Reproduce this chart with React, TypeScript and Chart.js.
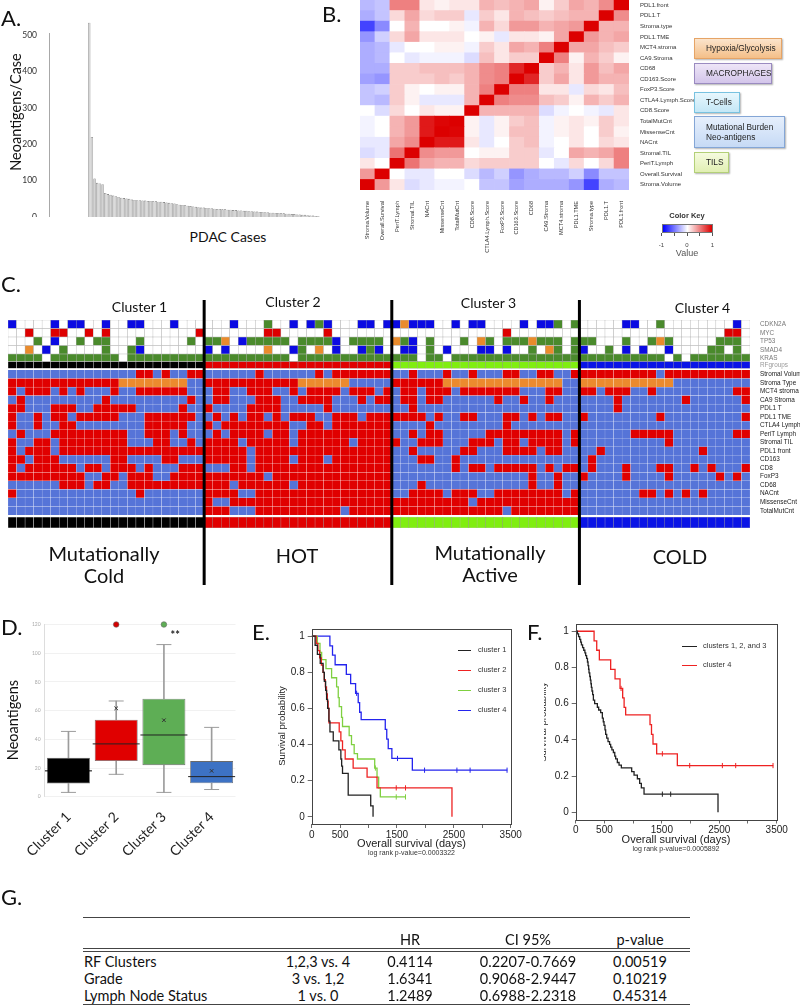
import React, { useEffect, useRef } from 'react';
import { Chart, registerables } from 'chart.js';

Chart.register(...registerables);

const SANS = 'Lato, "Open Sans", "DejaVu Sans", sans-serif';
const ARIAL = '"Liberation Sans", Arial, sans-serif';

// ---------------- Panel A data ----------------
const A_VALUES = [
  534, 220, 106, 94, 92, 90, 66, 63, 61, 59,
  57, 55, 53, 52, 51, 50, 48, 47, 46, 46,
  45, 45, 44, 44, 43, 43, 42, 42, 41, 40,
  39, 38, 37, 35, 34, 33, 32, 31, 30, 29,
  28, 27, 26, 26, 25, 24, 24, 23, 22, 22,
  21, 21, 20, 20, 19, 19, 18, 18, 17, 17,
  16, 16, 15, 15, 14, 14, 13, 13, 12, 12,
  11, 11, 10, 10, 9, 9, 8, 8, 7, 7,
  6, 6, 5, 4, 4, 3, 2,
];
const A_Y_TICKS = [0, 100, 200, 300, 400, 500];

// ---------------- Panel B data ----------------
const B_VARS = [
  'Stroma.Volume', 'Overall.Survival', 'PeriT.Lymph', 'Stromal.TIL', 'NACnt', 'MissenseCnt',
  'TotalMutCnt', 'CD8.Score', 'CTLA4.Lymph.Score', 'FoxP3.Score', 'CD163.Score', 'CD68',
  'CA9.Stroma', 'MCT4.stroma', 'PDL1.TME', 'Stroma.type', 'PDL1.T', 'PDL1.front',
];
const B_CORR_LOWER: number[][] = [
  [],
  [0.4],
  [0.1, 0.0],
  [-0.15, -0.1, 0.55],
  [-0.1, -0.1, 0.35, 0.45],
  [-0.05, 0.0, 0.3, 0.4, 0.9],
  [-0.05, 0.0, 0.3, 0.4, 0.9, 0.98],
  [0.0, -0.15, 0.15, 0.0, 0.1, 0.05, 0.05],
  [-0.25, -0.3, 0.2, 0.05, -0.1, -0.1, -0.1, 0.3],
  [-0.25, -0.2, 0.2, 0.05, 0.0, 0.05, 0.05, 0.3, 0.5],
  [-0.4, -0.45, 0.2, 0.2, 0.2, 0.25, 0.2, 0.3, 0.45, 0.5],
  [-0.35, -0.35, 0.2, 0.2, 0.25, 0.25, 0.25, 0.3, 0.45, 0.5, 0.85],
  [-0.35, -0.3, 0.0, -0.1, -0.05, -0.05, -0.05, -0.15, 0.25, 0.1, 0.2, 0.2],
  [-0.35, -0.3, -0.1, 0.0, 0.0, 0.05, 0.05, -0.05, 0.2, 0.1, 0.35, 0.3, 0.5],
  [-0.45, -0.2, 0.15, 0.35, 0.1, 0.1, 0.1, 0.0, 0.05, -0.1, 0.1, 0.1, 0.05, 0.35],
  [-0.8, -0.5, 0.0, 0.3, 0.0, 0.0, 0.05, -0.05, 0.3, 0.15, 0.4, 0.4, 0.3, 0.35, 0.4],
  [-0.35, -0.25, 0.15, 0.35, 0.15, 0.2, 0.2, -0.1, 0.2, 0.1, 0.3, 0.25, 0.2, 0.25, 0.3, 0.3],
  [-0.3, -0.25, 0.5, 0.5, 0.1, 0.05, 0.1, 0.1, 0.3, 0.25, 0.3, 0.35, 0.05, 0.2, 0.35, 0.3, 0.45],
];

// ---------------- Panel C data ----------------
const C_CLUSTER_SIZES = [23, 22, 22, 20];
const C_CLUSTER_COLORS = ['#000000', '#e00000', '#80ee10', '#0a14e6'];
const C_MUT_GENES = ['CDKN2A', 'MYC', 'TP53', 'SMAD4', 'KRAS'];
const C_MUT_ROWS: string[][] = [
  ['BWWWWBWBBWWBWWBBWWWBWWW', 'WWWBWWWGWWBWBGBWWWBBWB', 'BOBBBWWBWBBWWWWBWBBGWG', 'WWWWWBBWWGWWWWWWWWBW'],
  ['WWRWWRRWWRWRWWWWWWWWWWR', 'WWWWWWWRRWWWWWRWWWWWWW', 'WWWWWWWWWWWWWRWWWWWWWW', 'WWWWWWWWWWWWWWWWWRRW'],
  ['WWWGWBWWGWGGWWWGWWWWWGW', 'GGOWBGGGGGWGGGGBWGGGGW', 'OGBWGWWWGWOGWGGGOGGGWG', 'GGWWWGWWGOGWWWWWGGGW'],
  ['WWOWBWGWWWWGWWGBWWWWWWW', 'BWBWWWWOWWBGWOWBWWBGBW', 'WBBWGWBWWWBBWBWWGWOGWG', 'BWWGWBWBWWBWWWWGGWGW'],
  ['GGGGWGGGGGGGGWGGGGGGGGG', 'GGGGGGGGGGWGGGGGGGGGGG', 'GGGWGGWGGGGGGGGGGGGGGG', 'GGGGGGGGGGWGWGGGGGGG'],
];
const C_FEATURES = [
  'Stromal Volume', 'Stroma Type', 'MCT4 stroma', 'CA9 Stroma', 'PDL1 T', 'PDL1 TME',
  'CTLA4 Lymph', 'PeriT Lymph', 'Stromal TIL', 'PDL1 front', 'CD163', 'CD8', 'FoxP3',
  'CD68', 'NACnt', 'MissenseCnt', 'TotalMutCnt',
];
const C_FEATURE_ROWS: string[][] = [
  ['BBBBBBBBBBBBBBBRRBRBBRR', 'BBBBBBRBBBBBBRBRRRRRRR', 'BBRBBBRBBRBBBRRBBRRBBR', 'RRRRRRRRRBRRRRRRRRRR'],
  ['RRRRRRRRRRRRROOOOOOOOBB', 'RRRRRRRRRRROOOOOOBBBBB', 'RRRRRROOOOOOOOOOOOOOBB', 'OOOOOOOOOOOBBBBBBBBB'],
  ['RBRRRBRBRBBBRBBRRRRRRBB', 'BRRBBRRRBBRBRRRRBRRRBR', 'BRRBRRRBRRRRRRRBBBRRBB', 'RRBRRRBBRBBBBBBBBBRR'],
  ['BRBBBBBBBBBRBBBBBBBBBRB', 'BRRBBBRRRBBRRRRBBBRBRR', 'BRRBRRBBBBBBRBBRBBRBBB', 'BBBBRBBBBBBBRBBBBBBR'],
  ['RRBBBRRRBBRRRRRBBBBBRBB', 'RBBBBRRRRBBBBBRBBBBBBB', 'BBRBBBBBBBBBBBBBBBBBBB', 'BBBBRBBBBBBBBBBBBBBB'],
  ['RBBRBRRBRRRRRBBBRRRRRRB', 'BRBRBRRBRBRRRBBRRRBRRR', 'RRRRBRBBRRBBBRRBRBRRBB', 'RBBBBBBBBRBBBBBBBBBR'],
  ['RBBRBBRRBBBBBBBBRRRRRBB', 'RBRRRRRRRRBBRRBRRRRRRR', 'BBBBRBBBBBBBBRBBBBBBBB', 'BBBBBBBBBBBBBBBBBBBB'],
  ['BRBBBRRRRRRRRRBBRRRBRBB', 'BRBRRRRBRRBRRRRRRRRRRR', 'BBRBRRBBBBBRRRRRRRRRBR', 'BBBBBBRRRRRBBBBBBBRR'],
  ['RBBRRBRRRRRRRRBBBRRBBRB', 'RRRRBRRRRRBRRRRRRBRRRR', 'RBBRRRBBBRRRBRRBRRRRBR', 'BBBBBBBBBBRBBBBBBBBB'],
  ['RBRRRBRRRRRRRRRRRRRRRRR', 'RRRRRBRRRRRRRRRRRRRRRR', 'BBRBBBBBRRBBBRRRRBRRBB', 'BBRBBBBBBBBBBBRBBBBB'],
  ['RRBRRRBBBBBBRRBBBBRRBBB', 'RRRRRBRRRRBRRRBRRRRRRR', 'BBBRRBBRBBBBBBBBBBBBBB', 'BRBBBBBBBBBBBBBBBBBB'],
  ['RBRRRRRRBRRBRRRBRBBBRRR', 'BBBRRBRRRRRRRRRRRRRRRR', 'BBBBBBBRBRRBRRRRRBRBRR', 'BRBBBRBBBRRBBRBRBBBR'],
  ['RRRRRRRRRBBRRBRRRBBRRRR', 'RRRRRRRBRRRRRRRRRRRRRR', 'BBBBBBBBBBBBBBBBRBBRBB', 'RBBBBRBBBBRBBBBBRBRB'],
  ['BBBBBBRRRBRRBBRRRRRRRRR', 'RRRBRRRRRRBRRRRRRRRRRR', 'BBBRBBBBBBBBBBBBRBBRBB', 'BBBBBBBBBBBBBBBBBBBB'],
  ['RBBBBBBBBBBBBBBRBBBBBBB', 'RRRRBBRRRRRRRRRRRRRRRR', 'BBRRRRBRRRBBRRRRRRRRBR', 'BBBBBBBRRBRBRBRBBBBB'],
  ['BBBBBBBBBBBBBBBBBBBBBBB', 'RBBRRRRRRRRRRRRRRRRRRR', 'RRRRRRRRRBRRRRRRRRRRRR', 'BBBBBBBBBBBBBBBBBBBB'],
  ['BBBBBBBBBBBBBBBBBBBBBBB', 'RRRBBBRRRRRRRRRRBRRRRR', 'RRRRRRRRRRRRRBRRRRRRRR', 'BBBBBBBBBBBBBBBBBBBB'],
];

// ---------------- Panel D data ----------------
const D_CATS = ['Cluster 1', 'Cluster 2', 'Cluster 3', 'Cluster 4'];
const D_MIN = [3, 15.6, 3, 5];
const D_Q1 = [9.2, 24.8, 22, 9.4];
const D_MED = [18, 36.8, 43, 14];
const D_Q3 = [27.1, 53.6, 68.3, 24.8];
const D_MAX = [45.5, 66.7, 106, 48.3];
const D_MEAN = [19, 61.6, 53.3, 18];
const D_OUTLIER = [null, 120, 120, null];
const D_Y_TICKS = [0, 20, 40, 60, 80, 100, 120];

// ---------------- Panel E / F data ----------------
const E_C1_T = [0, 60, 100, 150, 200, 222, 245, 262, 280, 303, 321, 379, 478, 513, 527, 542, 642, 1038, 1079];
const E_C1_S = [1, 0.95, 0.9, 0.85, 0.8, 0.75, 0.7, 0.65, 0.6, 0.53, 0.47, 0.42, 0.37, 0.32, 0.28, 0.24, 0.12, 0.06, 0];
const E_C2_T = [0, 80, 110, 140, 170, 200, 220, 240, 260, 275, 290, 303, 484, 513, 542, 589, 729, 974, 1149, 2467];
const E_C2_S = [1, 0.96, 0.92, 0.88, 0.84, 0.8, 0.76, 0.72, 0.68, 0.64, 0.6, 0.52, 0.47, 0.42, 0.37, 0.32, 0.27, 0.22, 0.16, 0];
const E_C2_CENS_T = [1487, 1650];
const E_C2_CENS_S = [0.16, 0.16];
const E_C3_T = [0, 100, 146, 175, 251, 350, 438, 467, 484, 525, 542, 659, 700, 747, 805, 1108, 1149, 1178, 1207, 1650];
const E_C3_S = [1, 0.96, 0.91, 0.87, 0.82, 0.77, 0.72, 0.66, 0.61, 0.55, 0.5, 0.45, 0.4, 0.35, 0.32, 0.27, 0.22, 0.16, 0.11, 0.11];
const E_C3_CENS_T = [1120, 1487, 1650];
const E_C3_CENS_S = [0.27, 0.11, 0.11];
const C4_T = [0, 320, 366, 412, 609, 685, 772, 818, 843, 870, 1294, 1320, 1346, 1410, 1770, 3440];
const C4_S = [1, 0.947, 0.895, 0.842, 0.789, 0.737, 0.684, 0.632, 0.579, 0.538, 0.484, 0.43, 0.377, 0.323, 0.258, 0.258];
const C4_CENS_T = [790, 1509, 1985, 2554, 2786, 3436];
const C4_CENS_S = [0.684, 0.323, 0.258, 0.258, 0.258, 0.258];
const F_C123_T = [0, 30, 50, 70, 87, 100, 120, 140, 160, 174, 190, 205, 215, 225, 232, 245, 255, 265, 273, 283, 295, 308, 330, 377, 400, 435, 464, 480, 493, 510, 522, 540, 563, 590, 609, 630, 656, 680, 696, 725, 755, 795, 975, 1016, 1074, 1114, 1143, 1190, 2478];
const F_C123_S = [1, 0.985, 0.97, 0.955, 0.94, 0.925, 0.91, 0.895, 0.88, 0.865, 0.85, 0.83, 0.81, 0.79, 0.77, 0.75, 0.73, 0.71, 0.69, 0.67, 0.65, 0.62, 0.6, 0.58, 0.565, 0.55, 0.52, 0.5, 0.48, 0.455, 0.43, 0.41, 0.39, 0.375, 0.36, 0.345, 0.33, 0.31, 0.295, 0.275, 0.26, 0.245, 0.225, 0.205, 0.185, 0.16, 0.135, 0.1, 0];
const F_C123_CENS_T = [1509, 1654];
const F_C123_CENS_S = [0.1, 0.1];
const KM_X_TICKS = [0, 500, 1000, 1500, 2000, 2500, 3000, 3500];
const KM_X_LABELED = [0, 500, 1500, 2500, 3500];
const KM_Y_TICKS = [0, 0.2, 0.4, 0.6, 0.8, 1];

// ---------------- Panel G data ----------------
const G_HEADERS = ['', '', 'HR', 'CI 95%', 'p-value'];
const G_VARIABLES = ['RF Clusters', 'Grade', 'Lymph Node Status'];
const G_COMPARISONS = ['1,2,3 vs. 4', '3 vs. 1,2', '1 vs. 0'];
const G_HR = ['0.4114', '1.6341', '1.2489'];
const G_CI = ['0.2207-0.7669', '0.9068-2.9447', '0.6988-2.2318'];
const G_P = ['0.00519', '0.10219', '0.45314'];

// ---------------- helpers ----------------
function base(padding: any) {
  return {
    responsive: false,
    maintainAspectRatio: false,
    animation: false,
    devicePixelRatio: 1,
    events: [],
    layout: { padding },
    plugins: { legend: { display: false }, tooltip: { enabled: false }, title: { display: false } },
  };
}

function corrMatrix() {
  const n = B_VARS.length;
  const m: number[][] = [];
  for (let i = 0; i < n; i++) {
    m.push([]);
    for (let j = 0; j < n; j++) {
      if (i === j) m[i].push(1);
      else if (i > j) m[i].push(B_CORR_LOWER[i][j]);
      else m[i].push(B_CORR_LOWER[j][i]);
    }
  }
  return m;
}

function corrColor(v: number) {
  if (v >= 0) {
    const r = Math.round(255 - 35 * v);
    const g = Math.round(255 * (1 - v));
    return `rgb(${r},${g},${g})`;
  }
  const t = -v;
  const c = Math.round(255 * (1 - t) + 20 * t);
  return `rgb(${c},${c},255)`;
}

// ---------------- chart builders ----------------
function buildA() {
  return {
    type: 'bar',
    data: {
      datasets: [{
        data: A_VALUES.map((v, i) => ({ x: i, y: v })),
        backgroundColor: '#d3d3d3',
        borderColor: '#6e6e6e',
        borderWidth: 0.6,
        barPercentage: 0.9,
        categoryPercentage: 1,
        clip: false,
      }],
    },
    options: {
      ...base({ top: 33.2, right: 0, bottom: 0, left: 0 }),
      scales: {
        x: { type: 'linear', display: false, min: -3.8, max: 86.6 },
        y: {
          min: 0, max: 505,
          grid: { display: false },
          border: { color: '#a8a8a8', width: 1 },
          afterBuildTicks: (a: any) => { a.ticks = A_Y_TICKS.map((v) => ({ value: v })); },
          ticks: { font: { family: SANS, size: 8.5 }, color: '#333', padding: 4 },
          afterFit: (s: any) => { s.width = 49; s.paddingTop = 0; s.paddingBottom = 0; },
        },
      },
    },
  };
}

function buildB() {
  const m = corrMatrix();
  const datasets = B_VARS.map((name, r) => ({
    label: name,
    data: B_VARS.map(() => 1),
    backgroundColor: B_VARS.map((_, c) => corrColor(m[r][c])),
    borderWidth: 0,
    barPercentage: 1,
    categoryPercentage: 1,
  }));
  return {
    type: 'bar',
    data: { labels: B_VARS, datasets },
    options: {
      ...base({ top: 0, right: 0, bottom: 0, left: 0 }),
      scales: {
        x: {
          stacked: true,
          grid: { display: false },
          border: { display: false },
          ticks: { autoSkip: false, minRotation: 90, maxRotation: 90, padding: 3, color: '#333', font: { family: ARIAL, size: 5.6 } },
          afterFit: (s: any) => { s.height = 75; s.paddingLeft = 0; s.paddingRight = 0; },
        },
        y: { stacked: true, display: false, min: 0, max: B_VARS.length },
        yl: {
          type: 'category',
          position: 'right',
          labels: [...B_VARS].reverse(),
          offset: true,
          grid: { display: false },
          border: { display: false },
          ticks: { autoSkip: false, padding: 3, color: '#333', font: { family: ARIAL, size: 6 } },
          afterFit: (s: any) => { s.width = 71; s.paddingTop = 0; s.paddingBottom = 0; },
        },
      },
    },
  };
}

const MUT_COLORS: Record<string, string> = { W: '#ffffff', B: '#0b0be2', R: '#dd0000', G: '#4a8a2c', O: '#e98b2c' };
const FEAT_COLORS: Record<string, string> = { R: '#e00000', B: '#5674d8', O: '#ec8a2e' };

function buildCRows() {
  const clusterOf: number[] = [];
  C_CLUSTER_SIZES.forEach((n, k) => { for (let i = 0; i < n; i++) clusterOf.push(k); });
  const rows: any[] = [];
  const clusterRow = (label: string, h: number) => ({
    label, h, labelColor: '#9a9a9a',
    colors: clusterOf.map((k) => C_CLUSTER_COLORS[k]),
    border: clusterOf.map((k) => (k === 0 ? 'rgba(255,255,255,0.28)' : 'rgba(0,0,0,0.28)')),
    bw: 0.5,
  });
  const gap = (h: number) => ({ label: '', h, colors: clusterOf.map(() => 'rgba(0,0,0,0)'), border: 'rgba(0,0,0,0)', bw: 0 });
  rows.push(clusterRow('', 11));
  rows.push(gap(2));
  for (let r = C_FEATURES.length - 1; r >= 0; r--) {
    const codes = C_FEATURE_ROWS[r].join('').split('');
    rows.push({ label: C_FEATURES[r], h: 8.53, labelColor: '#222', colors: codes.map((c) => FEAT_COLORS[c]), border: 'rgba(255,255,255,0.33)', bw: 0.4 });
  }
  rows.push(gap(1.5));
  rows.push(clusterRow('RFgroups', 7));
  for (let g = C_MUT_GENES.length - 1; g >= 0; g--) {
    const codes = C_MUT_ROWS[g].join('').split('');
    rows.push({ label: C_MUT_GENES[g], h: g === 4 ? 7.5 : 8.5, labelColor: '#777', colors: codes.map((c) => MUT_COLORS[c]), border: '#b3b3b3', bw: 0.5 });
  }
  let acc = 0;
  rows.forEach((r) => { r.center = acc + r.h / 2; acc += r.h; });
  return { rows, total: acc, n: clusterOf.length };
}

const clusterLinesPlugin = {
  id: 'clusterLines',
  afterDatasetsDraw(chart: any) {
    const x = chart.scales.x;
    const ctx = chart.ctx;
    let acc = 0;
    ctx.save();
    ctx.strokeStyle = '#000';
    ctx.lineWidth = 3;
    C_CLUSTER_SIZES.slice(0, -1).forEach((n) => {
      acc += n;
      const px = (x.getPixelForValue(acc - 1) + x.getPixelForValue(acc)) / 2;
      ctx.beginPath();
      ctx.moveTo(px, 10);
      ctx.lineTo(px, 295);
      ctx.stroke();
    });
    ctx.restore();
  },
};

function buildC() {
  const { rows, total, n } = buildCRows();
  const labeled = rows.filter((r: any) => r.label);
  const labels = Array.from({ length: n }, (_, i) => `case ${i + 1}`);
  const datasets = rows.map((r: any) => ({
    data: r.colors.map(() => r.h),
    backgroundColor: r.colors,
    borderColor: r.border,
    borderWidth: r.bw,
    borderSkipped: false,
    barPercentage: 1,
    categoryPercentage: 1,
  }));
  return {
    type: 'bar',
    data: { labels, datasets },
    plugins: [clusterLinesPlugin],
    options: {
      ...base({ top: 30, right: 0, bottom: 62, left: 8 }),
      scales: {
        x: { stacked: true, display: false },
        y: { stacked: true, display: false, min: 0, max: total },
        y2: {
          type: 'linear', position: 'right', min: 0, max: total,
          grid: { display: false }, border: { display: false },
          afterBuildTicks: (a: any) => { a.ticks = labeled.map((r: any) => ({ value: r.center })); },
          ticks: {
            autoSkip: false, padding: 2,
            font: { family: ARIAL, size: 6.4 },
            color: (ctx: any) => (labeled[ctx.index] ? labeled[ctx.index].labelColor : '#222'),
            callback: (_v: any, i: number) => (labeled[i] ? labeled[i].label : ''),
          },
          afterFit: (s: any) => { s.width = 50; s.paddingTop = 0; s.paddingBottom = 0; },
        },
      },
    },
  };
}

function buildD() {
  const boxColors = ['#000000', '#e00000', '#5eae55', '#3d72c4'];
  const pt = (data: any[], extra: any) => ({ type: 'line', data, showLine: false, ...extra });
  return {
    type: 'bar',
    data: {
      labels: D_CATS,
      datasets: [
        { type: 'bar', data: D_MIN.map((v, i) => [v, D_Q1[i]]), backgroundColor: '#9c9c9c', barThickness: 1, grouped: false, order: 6 },
        { type: 'bar', data: D_Q3.map((v, i) => [v, D_MAX[i]]), backgroundColor: '#9c9c9c', barThickness: 1, grouped: false, order: 6 },
        { type: 'bar', data: D_Q1.map((v, i) => [v, D_Q3[i]]), backgroundColor: boxColors, borderColor: '#6a6a6a', borderWidth: 0.8, borderSkipped: false, barPercentage: 0.9, categoryPercentage: 1, grouped: false, order: 5 },
        pt(D_MIN, { pointStyle: 'line', pointRadius: 7.5, pointBorderColor: '#9c9c9c', pointBorderWidth: 1, order: 4 }),
        pt(D_MAX, { pointStyle: 'line', pointRadius: 7.5, pointBorderColor: '#9c9c9c', pointBorderWidth: 1, order: 4 }),
        pt(D_MED, { pointStyle: 'line', pointRadius: 23.5, pointBorderColor: ['#000000', '#222222', '#222222', '#222222'], pointBorderWidth: 1, order: 3 }),
        pt(D_MEAN, { pointStyle: 'crossRot', pointRadius: 2.5, pointBorderColor: ['#000000', '#333333', '#333333', '#333333'], pointBorderWidth: 1, order: 2 }),
        pt(D_OUTLIER, { pointStyle: 'circle', pointRadius: 2.8, pointBackgroundColor: ['#000', '#d40000', '#5eae55', '#000'], pointBorderColor: '#666', pointBorderWidth: 0.6, clip: false, order: 1 }),
      ],
    },
    options: {
      ...base({ top: 22.7, right: 6.5, bottom: 0, left: 0 }),
      scales: {
        x: {
          grid: { display: false },
          border: { display: false },
          ticks: { autoSkip: false, minRotation: 45, maxRotation: 45, padding: 4, color: '#222', font: { family: SANS, size: 14 } },
          afterFit: (s: any) => { s.height = 65.3; s.paddingLeft = 0; s.paddingRight = 0; },
        },
        y: {
          min: 0, max: 120,
          grid: { color: '#eeeeee', lineWidth: 0.8, drawTicks: false },
          border: { color: '#dddddd' },
          afterBuildTicks: (a: any) => { a.ticks = D_Y_TICKS.map((v) => ({ value: v })); },
          ticks: { padding: 4, color: '#aaaaaa', font: { family: SANS, size: 5 } },
          afterFit: (s: any) => { s.width = 44.6; s.paddingTop = 0; s.paddingBottom = 0; },
        },
      },
    },
  };
}

const framePlugin = {
  id: 'frame',
  afterDraw(chart: any) {
    const { ctx, chartArea } = chart;
    ctx.save();
    ctx.strokeStyle = '#444';
    ctx.lineWidth = 1;
    ctx.strokeRect(Math.round(chartArea.left) + 0.5, Math.round(chartArea.top) + 0.5, Math.round(chartArea.right - chartArea.left), Math.round(chartArea.bottom - chartArea.top));
    ctx.restore();
  },
};

function buildKM(curves: any[], pad: any, yWidth: number, xHeight: number) {
  const datasets: any[] = [];
  curves.forEach((c) => {
    datasets.push({
      data: c.t.map((t: number, i: number) => ({ x: t, y: c.s[i] })),
      stepped: true, borderColor: c.color, borderWidth: 1.3, pointRadius: 0, fill: false,
    });
    if (c.ct.length) {
      datasets.push({
        data: c.ct.map((t: number, i: number) => ({ x: t, y: c.cs[i] })),
        showLine: false, pointStyle: 'line', pointRotation: 90, pointRadius: 2.6,
        pointBorderColor: c.color, pointBorderWidth: 1, borderColor: c.color,
      });
    }
  });
  return {
    type: 'line',
    data: { datasets },
    plugins: [framePlugin],
    options: {
      ...base(pad),
      scales: {
        x: {
          type: 'linear', min: 0, max: 3500,
          grid: { display: true, drawOnChartArea: false, drawTicks: true, tickLength: 4, color: '#444', lineWidth: 0.8 },
          border: { display: false },
          afterBuildTicks: (a: any) => { a.ticks = KM_X_TICKS.map((v) => ({ value: v })); },
          ticks: {
            autoSkip: false, maxRotation: 0, padding: 1, color: '#222', font: { family: ARIAL, size: 10 },
            callback: (v: any) => (KM_X_LABELED.includes(v) ? String(v) : ''),
          },
          afterFit: (s: any) => { s.height = xHeight; s.paddingLeft = 0; s.paddingRight = 0; },
        },
        y: {
          type: 'linear', min: -0.04, max: 1.04,
          grid: { display: true, drawOnChartArea: false, drawTicks: true, tickLength: 4, color: '#444', lineWidth: 0.8 },
          border: { display: false },
          afterBuildTicks: (a: any) => { a.ticks = KM_Y_TICKS.map((v) => ({ value: v })); },
          ticks: { padding: 3, color: '#222', font: { family: ARIAL, size: 10 }, callback: (v: any) => String(v) },
          afterFit: (s: any) => { s.width = yWidth; s.paddingTop = 0; s.paddingBottom = 0; },
        },
      },
    },
  };
}

function buildE() {
  return buildKM([
    { t: E_C1_T, s: E_C1_S, ct: [], cs: [], color: '#222222' },
    { t: E_C2_T, s: E_C2_S, ct: E_C2_CENS_T, cs: E_C2_CENS_S, color: '#ee2222' },
    { t: E_C3_T, s: E_C3_S, ct: E_C3_CENS_T, cs: E_C3_CENS_S, color: '#7fd040' },
    { t: C4_T, s: C4_S, ct: C4_CENS_T, cs: C4_CENS_S, color: '#2424ee' },
  ], { top: 14, right: 21.3, bottom: 0, left: 0 }, 49.7, 41);
}

function buildF() {
  return buildKM([
    { t: F_C123_T, s: F_C123_S, ct: F_C123_CENS_T, cs: F_C123_CENS_S, color: '#222222' },
    { t: C4_T, s: C4_S, ct: C4_CENS_T, cs: C4_CENS_S, color: '#ee2222' },
  ], { top: 14, right: 23.3, bottom: 0, left: 0 }, 45.7, 40.5);
}

// ---------------- components ----------------
function ChartCanvas({ left, top, width, height, build }: any) {
  const ref = useRef<HTMLCanvasElement | null>(null);
  useEffect(() => {
    if (!ref.current) return;
    const chart = new Chart(ref.current, build());
    return () => chart.destroy();
  }, []);
  return <canvas ref={ref} width={width} height={height} style={{ position: 'absolute', left, top, width, height }} />;
}

function Txt({ x, y, size, children, family = SANS, color = '#111', weight = 400, align = 'center', rotate = 0, lh = 1 }: any) {
  const tx = align === 'center' ? '-50%' : align === 'left' ? '0' : '-100%';
  return (
    <div style={{
      position: 'absolute', left: x, top: y,
      transform: `translate(${tx},-50%) rotate(${rotate}deg)`,
      fontSize: size, fontFamily: family, color, fontWeight: weight,
      whiteSpace: 'pre', lineHeight: lh, textAlign: 'center',
    }}>{children}</div>
  );
}

function Box({ x, y, w, h, bg, border, children }: any) {
  return (
    <div style={{
      position: 'absolute', left: x, top: y, width: w, height: h, boxSizing: 'border-box',
      background: bg, border: `1px solid ${border}`, boxShadow: '1px 1px 1.5px rgba(0,0,0,0.3)',
      display: 'flex', alignItems: 'center', paddingLeft: 11, fontFamily: ARIAL, fontSize: 8.3, color: '#222',
      lineHeight: 1.25, whiteSpace: 'pre',
    }}>{children}</div>
  );
}

function HLine({ x1, x2, y, color = '#444', w = 1 }: any) {
  return <div style={{ position: 'absolute', left: x1, top: y, width: x2 - x1, height: w, background: color }} />;
}

export default function App() {
  const eLegend = [['cluster 1', '#222222'], ['cluster 2', '#ee2222'], ['cluster 3', '#7fd040'], ['cluster 4', '#2424ee']];
  const fLegend = [['clusters 1, 2, and 3', '#222222'], ['cluster 4', '#ee2222']];
  const gCols = [318, 410, 528, 640];
  const gRowsY = [962, 979, 996];
  return (
    <div style={{ position: 'absolute', left: 0, top: 0, width: 800, height: 1008, background: '#fff', overflow: 'hidden' }}>
      {/* Panel A */}
      <ChartCanvas left={0} top={0} width={350} height={217} build={buildA} />
      <Txt x={1} y={17.5} size={22} align="left">A.</Txt>
      <Txt x={16} y={112} size={14.5} rotate={-90}>Neoantigens/Case</Txt>
      <Txt x={228} y={237} size={14}>PDAC Cases</Txt>

      {/* Panel B */}
      <ChartCanvas left={360} top={0} width={340} height={265} build={buildB} />
      <Txt x={322} y={13.5} size={22} align="left">B.</Txt>
      <Box x={694} y={38} w={88} h={21} bg="linear-gradient(#fbe4cc, #f4bf88)" border="#e6a466">Hypoxia/Glycolysis</Box>
      <Box x={694} y={63} w={78} h={21} bg="linear-gradient(#eee6f7, #d3c5ea)" border="#9a8bc0">MACROPHAGES</Box>
      <Box x={694} y={92} w={46} h={21} bg="linear-gradient(#e8f7fd, #c4e7f6)" border="#78c2e0">T-Cells</Box>
      <Box x={694} y={116} w={91} h={32} bg="linear-gradient(#e6effc, #c6daf5)" border="#84a6d6">{'Mutational Burden\nNeo-antigens'}</Box>
      <Box x={694} y={152} w={35} h={21} bg="linear-gradient(#f5fbdf, #e1efb3)" border="#b3d078">TILS</Box>
      <Txt x={687} y={216} size={7.5} weight={700} family={ARIAL} color="#333">Color Key</Txt>
      <div style={{ position: 'absolute', left: 661.5, top: 224, width: 51, height: 8.5, background: 'linear-gradient(to right, #0000ff, #ffffff, #dd0000)', border: '0.5px solid #777', boxSizing: 'border-box' }} />
      {[661.5, 674.25, 687, 699.75, 712.5].map((x, i) => (
        <div key={i} style={{ position: 'absolute', left: x - 0.4, top: 232.5, width: 0.8, height: 3, background: '#555' }} />
      ))}
      <Txt x={661.5} y={245} size={6} family={ARIAL} color="#444">-1</Txt>
      <Txt x={687} y={245} size={6} family={ARIAL} color="#444">0</Txt>
      <Txt x={712.5} y={245} size={6} family={ARIAL} color="#444">1</Txt>
      <Txt x={687} y={253} size={9} family={ARIAL} color="#555">Value</Txt>

      {/* Panel C */}
      <ChartCanvas left={0} top={290} width={800} height={300} build={buildC} />
      <Txt x={1} y={284} size={22} align="left">C.</Txt>
      <Txt x={139.5} y={306.7} size={14}>Cluster 1</Txt>
      <Txt x={293} y={301.7} size={14}>Cluster 2</Txt>
      <Txt x={488.5} y={303} size={14}>Cluster 3</Txt>
      <Txt x={702.5} y={308} size={14}>Cluster 4</Txt>
      <Txt x={104} y={564} size={20} lh={1.1}>{'Mutationally\nCold'}</Txt>
      <Txt x={297} y={555} size={20}>HOT</Txt>
      <Txt x={490} y={563} size={20} lh={1.1}>{'Mutationally\nActive'}</Txt>
      <Txt x={680} y={556} size={20}>COLD</Txt>

      {/* Panel D */}
      <ChartCanvas left={0} top={600} width={260} height={262} build={buildD} />
      <Txt x={1} y={626.5} size={22} align="left">D.</Txt>
      <Txt x={13} y={720} size={14.5} rotate={-90}>Neoantigens</Txt>
      <Txt x={175.3} y={634} size={11} weight={700} color="#222">**</Txt>

      {/* Panel E */}
      <ChartCanvas left={262} top={615} width={270} height={250} build={buildE} />
      <Txt x={252} y={631.5} size={22} align="left">E.</Txt>
      <Txt x={281.7} y={726} size={9.5} family={ARIAL} rotate={-90} color="#222">Survival probability</Txt>
      <Txt x={411.5} y={842.7} size={11} family={ARIAL} color="#222">Overall survival (days)</Txt>
      <Txt x={411.5} y={852} size={7} family={ARIAL} color="#333">log rank p-value=0.0003322</Txt>
      {eLegend.map(([label, color], i) => (
        <React.Fragment key={label}>
          <div style={{ position: 'absolute', left: 458, top: 649.5 + i * 20, width: 13, height: 1.2, background: color }} />
          <div style={{ position: 'absolute', left: 478, top: 650 + i * 20, transform: 'translateY(-50%)', fontFamily: ARIAL, fontSize: 7.5, color: '#333', whiteSpace: 'nowrap', lineHeight: 1 }}>{label}</div>
        </React.Fragment>
      ))}

      {/* Panel F */}
      <ChartCanvas left={530} top={610} width={270} height={250} build={buildF} />
      <Txt x={527} y={631.5} size={22} align="left">F.</Txt>
      <div style={{ position: 'absolute', left: 543.5, top: 600, width: 20, height: 250, overflow: 'hidden' }}>
        <Txt x={-0.5} y={122} size={9.5} family={ARIAL} rotate={-90} color="#222">Survival probability</Txt>
      </div>
      <Txt x={676} y={839} size={11} family={ARIAL} color="#222">Overall survival (days)</Txt>
      <Txt x={676} y={848.3} size={7} family={ARIAL} color="#333">log rank p-value=0.0005892</Txt>
      {fLegend.map(([label, color], i) => (
        <React.Fragment key={label}>
          <div style={{ position: 'absolute', left: 682, top: 645.5 + i * 19, width: 15, height: 1.2, background: color }} />
          <div style={{ position: 'absolute', left: 703, top: 646 + i * 19, transform: 'translateY(-50%)', fontFamily: ARIAL, fontSize: 7.5, color: '#333', whiteSpace: 'nowrap', lineHeight: 1 }}>{label}</div>
        </React.Fragment>
      ))}

      {/* Panel G */}
      <Txt x={1} y={897} size={22} align="left">G.</Txt>
      <HLine x1={83} x2={690} y={917} />
      {G_HEADERS.slice(2).map((h, i) => (
        <Txt key={h} x={gCols[i + 1]} y={940} size={14.5} color="#111">{h}</Txt>
      ))}
      <HLine x1={83} x2={690} y={948} />
      <HLine x1={83} x2={690} y={951} />
      {G_VARIABLES.map((v, r) => (
        <React.Fragment key={v}>
          <Txt x={84} y={gRowsY[r]} size={14.5} align="left" color="#111">{v}</Txt>
          <Txt x={gCols[0]} y={gRowsY[r]} size={14.5} color="#111">{G_COMPARISONS[r]}</Txt>
          <Txt x={gCols[1]} y={gRowsY[r]} size={14.5} color="#111">{G_HR[r]}</Txt>
          <Txt x={gCols[2]} y={gRowsY[r]} size={14.5} color="#111">{G_CI[r]}</Txt>
          <Txt x={gCols[3]} y={gRowsY[r]} size={14.5} color="#111">{G_P[r]}</Txt>
        </React.Fragment>
      ))}
      <HLine x1={83} x2={690} y={1004} />
    </div>
  );
}
